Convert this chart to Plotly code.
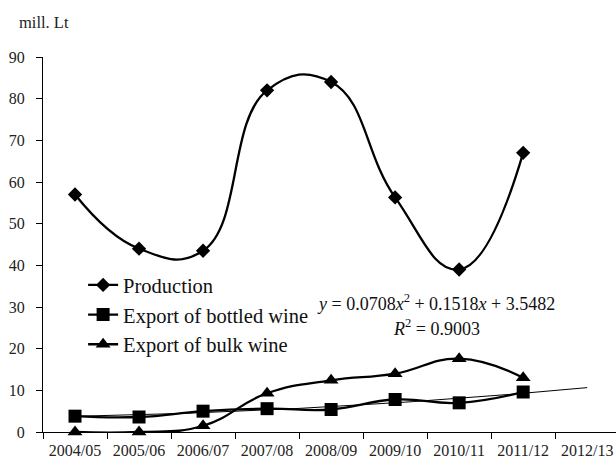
import numpy as np
import plotly.graph_objects as go

seasons = ["2004/05", "2005/06", "2006/07", "2007/08", "2008/09",
           "2009/10", "2010/11", "2011/12", "2012/13"]
production = [57, 44, 43.5, 82, 84, 56.3, 39, 67]
bottled = [3.8, 3.6, 5.0, 5.6, 5.4, 7.8, 7.0, 9.6]
bulk = [0, 0, 1.5, 9.3, 12.4, 14.0, 17.6, 13.0]
# polynomial trend for bottled wine, x = 1 for 2004/05
trend_coef = [0.0708, 0.1518, 3.5482]

FONT = "Liberation Serif"
fig = go.Figure()

line = dict(color="black", width=2.3, shape="spline", smoothing=1.3)

fig.add_trace(go.Scatter(
    x=seasons[:len(production)], y=production, name="Production",
    mode="lines+markers", line=line,
    marker=dict(symbol="diamond", size=11, color="black"), cliponaxis=False))
fig.add_trace(go.Scatter(
    x=seasons[:len(bottled)], y=bottled, name="Export of bottled wine",
    mode="lines+markers", line=line,
    marker=dict(symbol="square", size=13, color="black"), cliponaxis=False))
fig.add_trace(go.Scatter(
    x=seasons[:len(bulk)], y=bulk, name="Export of bulk wine",
    mode="lines+markers", line=line,
    marker=dict(symbol="triangle-up", size=13, color="black"), cliponaxis=False))

# trendline drawn on a hidden linear axis aligned with category positions
tx = np.linspace(1, 9, 60)
ty = trend_coef[0] * tx**2 + trend_coef[1] * tx + trend_coef[2]
fig.add_trace(go.Scatter(
    x=tx - 1, y=ty, xaxis="x2", mode="lines", showlegend=False,
    line=dict(color="black", width=1), hoverinfo="skip"))

fig.update_layout(
    width=616, height=460,
    margin=dict(l=43, r=0, t=57, b=28),
    plot_bgcolor="white", paper_bgcolor="white",
    font=dict(family=FONT, color="#222", size=16),
    showlegend=True,
    legend=dict(x=0.07, y=0.445, xanchor="left", yanchor="top",
                font=dict(family=FONT, size=20.5, color="#111"),
                bgcolor="rgba(0,0,0,0)", tracegroupgap=0,
                itemwidth=30),
    xaxis=dict(type="category", categoryorder="array", categoryarray=seasons,
               range=[-0.5, 8.45], showline=True, linecolor="black",
               linewidth=1, ticks="outside", tickson="boundaries",
               ticklen=6, tickcolor="black", showgrid=False, zeroline=False,
               automargin=False, ticklabelstandoff=4,
               tickfont=dict(family=FONT, size=16, color="#222")),
    xaxis2=dict(overlaying="x", range=[-0.5, 8.45], visible=False),
    yaxis=dict(range=[0, 90], dtick=10, showline=True, linecolor="black",
               linewidth=1, ticks="outside", ticklen=6, tickcolor="black",
               showgrid=False, zeroline=False,
               automargin=False, ticklabelstandoff=8,
               tickfont=dict(family=FONT, size=16, color="#222")),
)

fig.add_annotation(x=0, y=1.06, xref="paper", yref="paper", xshift=-26,
                   xanchor="left", yanchor="bottom", showarrow=False,
                   text="mill. Lt", font=dict(family=FONT, size=16.5, color="#222"))
fig.add_annotation(x=5.64, y=31.2, xref="x2", yref="y", showarrow=False,
                   xanchor="center", yanchor="middle",
                   text="<i>y</i> = 0.0708<i>x</i><sup>2</sup> + 0.1518<i>x</i> + 3.5482",
                   font=dict(family=FONT, size=18, color="#111"))
fig.add_annotation(x=5.64, y=25.2, xref="x2", yref="y", showarrow=False,
                   xanchor="center", yanchor="middle",
                   text="<i>R</i><sup>2</sup> = 0.9003",
                   font=dict(family=FONT, size=18, color="#111"))

fig.write_html("out.html")
